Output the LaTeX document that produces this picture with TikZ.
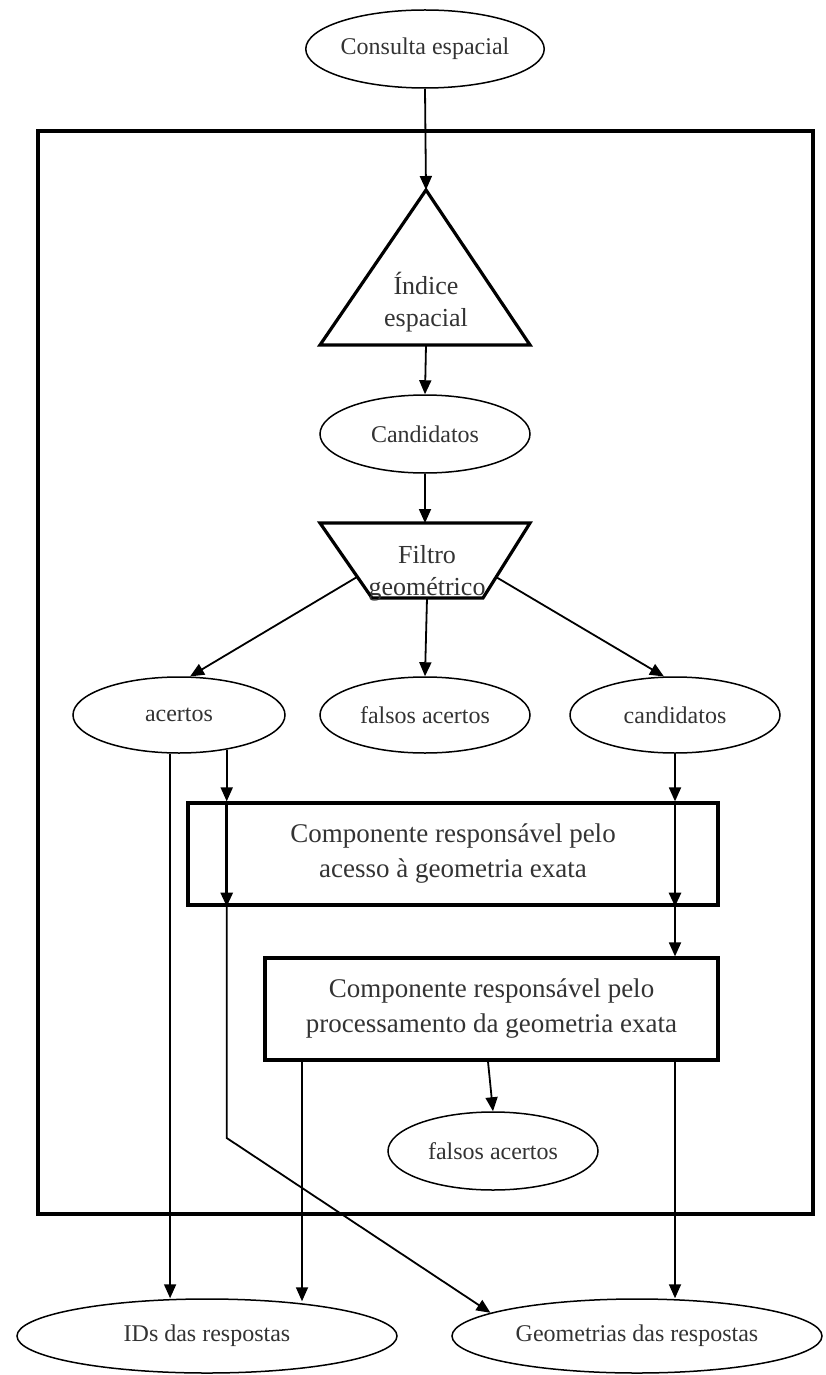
\documentclass[tikz,border=0pt]{standalone}
\usepackage{fontspec}
\setmainfont{Liberation Serif}
\usetikzlibrary{arrows.meta,shapes.geometric}
\begin{document}
\begin{tikzpicture}[x=0.5pt,y=-0.5pt,
  ell/.style={ellipse, draw, line width=0.75pt, inner sep=0pt, font=\fontsize{12}{14}\selectfont, text=black!80},
  shp/.style={draw, line width=1.6pt, line join=miter},
  boxn/.style={draw, line width=1.6pt, align=center, font=\fontsize{13.5}{17.5}\selectfont, text=black!80, inner sep=0pt},
  arr/.style={line width=0.9pt, -{Triangle[length=7pt,width=6pt]}},
  arrthick/.style={line width=1.4pt, -{Triangle[length=7pt,width=6pt]}},
  lbl/.style={align=center, font=\fontsize{13}{16}\selectfont, text=black!80}]

\useasboundingbox (0,0) rectangle (825,1375);
% outer frame
\draw[line width=1.6pt] (38,131) rectangle (813,1214);

% top ellipse
\node[ell, minimum width=105pt, minimum height=39pt] (cons) at (425,49) {Consulta espacial};

% triangle (spatial index)
\coordinate (triTop) at (426,190);
\coordinate (triBot) at (426,345);
\draw[shp] (triTop) -- (530,345) -- (320,345) -- cycle;
\node[lbl] (tri) at (426,302) {Índice\\espacial};

\node[ell, minimum width=105pt, minimum height=39pt] (cand) at (425,434) {Candidatos};

% trapezoid (geometric filter)
\coordinate (trapTop) at (425,523);
\coordinate (trapBot) at (427,598);
\coordinate (trapL) at (357,577);
\coordinate (trapR) at (496,577);
\draw[shp] (320,523) -- (530,523) -- (483,598) -- (372,598) -- cycle;
\node[lbl] (trap) at (427,573) {Filtro\\geométrico};

% middle row
\node[ell, minimum width=106pt, minimum height=38pt] (acertos) at (179,715) {acertos};
\node[ell, minimum width=105pt, minimum height=38pt] (fa1) at (425,715) {falsos acertos};
\node[ell, minimum width=105pt, minimum height=38pt] (cands) at (675,715) {candidatos};

% boxes
\node[boxn, minimum width=265pt, minimum height=51pt] (box1) at (453,854)
  {Componente responsável pelo\\acesso à geometria exata};
\node[boxn, minimum width=226.5pt, minimum height=51pt] (box2) at (491.5,1009)
  {Componente responsável pelo\\processamento da geometria exata};

\node[ell, minimum width=105pt, minimum height=39pt] (fa2) at (493,1151) {falsos acertos};

% results
\node[ell, minimum width=190pt, minimum height=37pt] (ids) at (207,1336) {IDs das respostas};
\node[ell, minimum width=185pt, minimum height=37pt] (geo) at (637,1336) {Geometrias das respostas};

% helper positions
\coordinate (xA) at (302,0);
\coordinate (xB) at (488,0);
\coordinate (bend) at (0,1138);

% connectors
\draw[arr] (cons.south) -- (triTop);
\draw[arr] (triBot) -- (cand.north);
\draw[arr] (cand.south) -- (trapTop);
\draw[arr] (trapL) -- (acertos.74);
\draw[arr] (trapBot) -- (fa1.north);
\draw[arr] (trapR) -- (cands.106);

% acertos -> IDs
\draw[arr] (acertos.-103) -- (acertos.-103 |- ids.north);
% acertos -> box1 -> geometries
\draw[arr] (acertos.-36) -- (acertos.-36 |- box1.north);
\draw[arrthick] (acertos.-36 |- box1.north) -- (acertos.-36 |- box1.south);
\draw[arr] (acertos.-36 |- box1.south) -- (acertos.-36 |- bend) -- (geo.171);

% candidatos -> box1 -> box2
\draw[arr] (cands.south) -- (cands.south |- box1.north);
\draw[arrthick] (cands.south |- box1.north) -- (cands.south |- box1.south);
\draw[arr] (cands.south |- box1.south) -- (cands.south |- box2.north);

% box2 outputs
\draw[arr, shorten >=-1.5pt] (box2.south -| xA) -- (xA |- ids.north);
\draw[arr] (box2.south -| xB) -- (fa2.north);
\draw[arr] (cands.south |- box2.south) -- (cands.south |- geo.north);
\end{tikzpicture}
\end{document}
